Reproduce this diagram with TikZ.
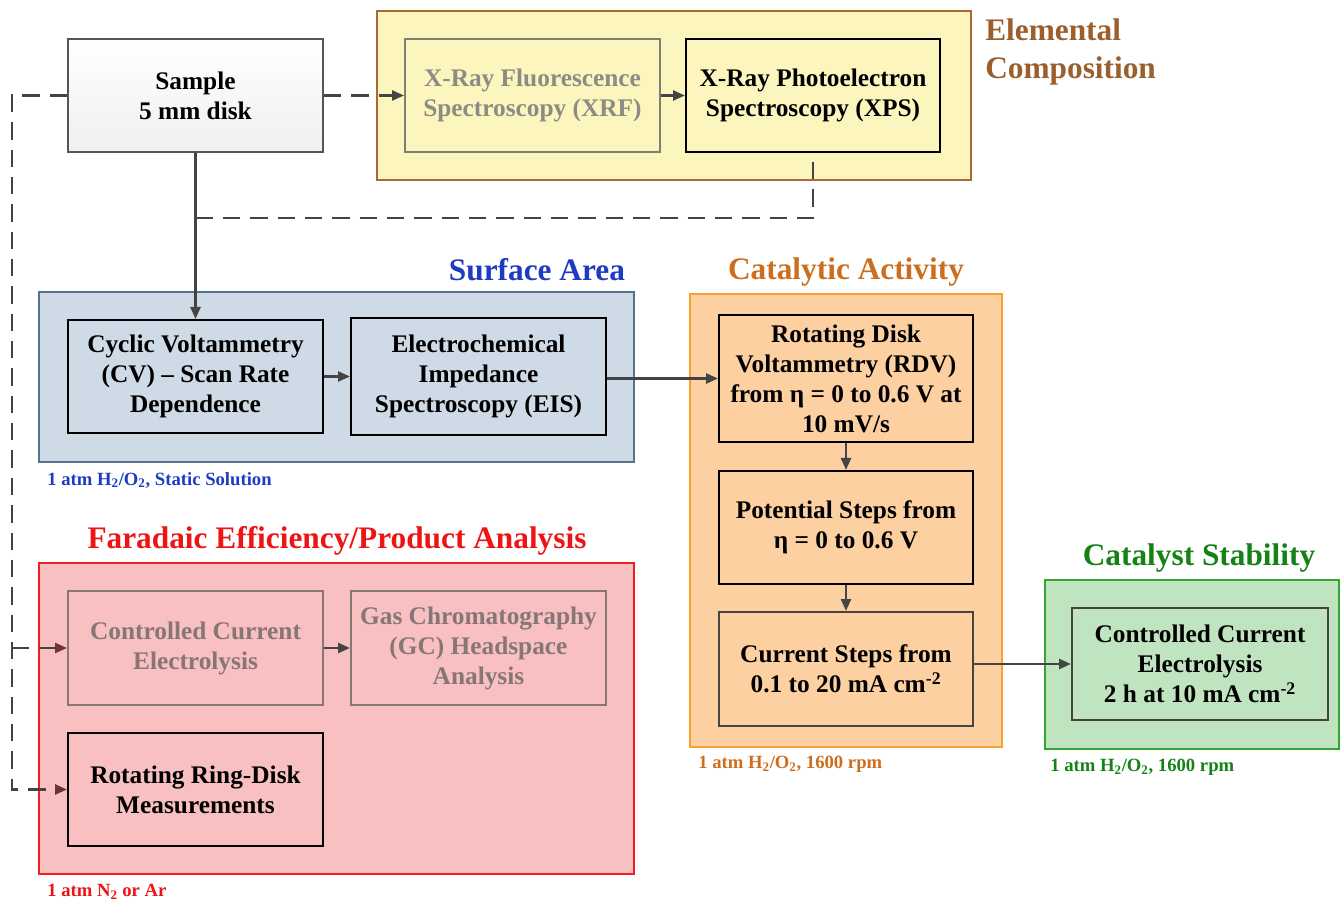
\documentclass[tikz,border=0pt]{standalone}
\usepackage{fontspec}
\setmainfont{Liberation Serif}
\usetikzlibrary{arrows.meta,fit}

\definecolor{lineC}{RGB}{68,68,68}
\definecolor{ylwF}{RGB}{252,246,190}
\definecolor{ylwD}{RGB}{170,105,50}
\definecolor{brnT}{RGB}{155,95,45}
\definecolor{bluF}{RGB}{206,218,230}
\definecolor{bluD}{RGB}{85,115,145}
\definecolor{bluT}{RGB}{30,60,195}
\definecolor{orgF}{RGB}{253,208,162}
\definecolor{orgD}{RGB}{248,160,50}
\definecolor{orgT}{RGB}{205,110,30}
\definecolor{grnF}{RGB}{192,228,192}
\definecolor{grnD}{RGB}{50,165,50}
\definecolor{grnT}{RGB}{20,130,20}
\definecolor{pnkF}{RGB}{248,192,192}
\definecolor{pnkD}{RGB}{240,30,30}
\definecolor{redT}{RGB}{238,20,20}
\definecolor{dimY}{RGB}{140,140,132}
\definecolor{dimP}{RGB}{135,118,118}
\definecolor{tipR}{RGB}{110,50,50}

\newcommand\bxfont{\fontsize{19}{22.5}\selectfont\bfseries}
\newcommand\ttlfont{\fontsize{23.5}{28.5}\selectfont\bfseries}
\newcommand\subfont{\fontsize{14}{16}\selectfont\bfseries}

\begin{document}
\begin{tikzpicture}[x=0.75pt,y=-0.75pt,
  grp/.style={line width=1.5pt, inner sep=0pt},
  bx/.style={draw, line width=1.5pt, inner sep=0pt, align=center, font=\bxfont},
  wh/.style n args={2}{minimum width=#1*0.75pt, minimum height=#2*0.75pt},
  ttl/.style={font=\ttlfont, inner sep=0pt, align=left},
  sub/.style={font=\subfont, inner sep=0pt, anchor=west},
  arr/.style={line width=1.8pt, draw=lineC, -{Triangle[length=9pt,width=7.5pt]}},
  dsh/.style={line width=1.8pt, draw=lineC, dash pattern=on 13pt off 7.5pt},
]
\useasboundingbox (0,0) rectangle (1340,902);

% group panels
\node[grp, fit={(377,11) (971,180)}, fill=ylwF, draw=ylwD] (gElem) {};
\node[grp, fit={(39,292) (634,462)}, fill=bluF, draw=bluD] (gSurf) {};
\node[grp, fit={(690,294) (1002,747)}, fill=orgF, draw=orgD] (gCat) {};
\node[grp, fit={(1045,580) (1339,749)}, fill=grnF, draw=grnD] (gStab) {};
\node[grp, fit={(39,563) (634,874)}, fill=pnkF, draw=pnkD] (gFar) {};

% group titles and conditions
\node[ttl, text=brnT, anchor=west] (tElem) at (985,52) {Elemental\\Composition};
\node[ttl, text=bluT] (tSurf) at (537,270) {Surface Area};
\node[ttl, text=orgT] (tCat) at (846,272) {Catalytic Activity};
\node[ttl, text=grnT] (tStab) at (1199,558) {Catalyst Stability};
\node[ttl, text=redT] (tFar) at (337,541) {Faradaic Efficiency/Product Analysis};

\node[sub, text=bluT] (cSurf) at (47,480) {1 atm H\textsubscript{2}/O\textsubscript{2}, Static Solution};
\node[sub, text=orgT] (cCat) at (698,764) {1 atm H\textsubscript{2}/O\textsubscript{2}, 1600 rpm};
\node[sub, text=grnT] (cStab) at (1050,767) {1 atm H\textsubscript{2}/O\textsubscript{2}, 1600 rpm};
\node[sub, text=redT] (cFar) at (47,892) {1 atm N\textsubscript{2} or Ar};

% step boxes
\node[bx, wh={255}{113}, draw={rgb,255:red,85;green,85;blue,85}, top color=white, bottom color=black!6] (sample) at (195.5,95.5) {Sample\\5 mm disk};
\node[bx, wh={255}{113}, draw=dimY!90!black, text=dimY] (xrf) at (532.5,95.5) {X-Ray Fluorescence\\Spectroscopy (XRF)};
\node[bx, wh={254}{113}, draw=black] (xps) at (813,95.5) {X-Ray Photoelectron\\Spectroscopy (XPS)};
\node[bx, wh={255}{113}, draw=black] (cv) at (195.5,376.5) {Cyclic Voltammetry\\(CV) -- Scan Rate\\Dependence};
\node[bx, wh={255}{117}, draw=black] (eis) at (478.5,376.5) {Electrochemical\\Impedance\\Spectroscopy (EIS)};
\node[bx, wh={254}{127}, draw=black] (rdv) at (846,378.5) {Rotating Disk\\Voltammetry (RDV)\\from η = 0 to 0.6 V at\\10 mV/s};
\node[bx, wh={254}{113}, draw=black] (ps) at (846,527.5) {Potential Steps from\\η = 0 to 0.6 V};
\node[bx, wh={254}{114}, draw=lineC] (cs) at (846,669) {Current Steps from\\0.1 to 20 mA cm\textsuperscript{-2}};
\node[bx, wh={256}{112}, draw=lineC] (ccg) at (1200,664) {Controlled Current\\Electrolysis\\2 h at 10 mA cm\textsuperscript{-2}};
\node[bx, wh={255}{114}, draw=dimP, text=dimP] (cce) at (195.5,648) {Controlled Current\\Electrolysis};
\node[bx, wh={255}{114}, draw=dimP, text=dimP] (gc) at (478.5,648) {Gas Chromatography\\(GC) Headspace\\Analysis};
\node[bx, wh={255}{113}, draw=black] (rrde) at (195.5,789.5) {Rotating Ring-Disk\\Measurements};

% junction points of the dashed routes
\coordinate (jn) at (195.5,218);
\coordinate (lt) at (12,95.5);
\coordinate (lb) at (12,789.5);
\coordinate (lm) at (12,648);

% connectors
\draw[arr] (sample.south) -- (cv.north);
\draw[dsh] (jn) -| (xps.south);
\draw[dsh, -{Triangle[length=9pt,width=7.5pt]}] (sample.east) -- (xrf.west);
\draw[arr] (xrf.east) -- (xps.west);
\draw[dsh, -{Triangle[length=9pt,width=7.5pt,color=tipR]}] (sample.west) -- (lt) -- (lb) -- (rrde.west);
\draw[dsh, -{Triangle[length=9pt,width=7.5pt,color=tipR]}] (lm) -- (cce.west);
\draw[arr] (cv.east) -- (eis.west |- cv.east);
\draw[arr] (eis.east |- rdv.west) -- (rdv.west);
\draw[arr] (rdv.south) -- (ps.north);
\draw[arr] (ps.south) -- (cs.north);
\draw[arr] (cs.east |- ccg.west) -- (ccg.west);
\draw[arr] (cce.east) -- (gc.west);
\end{tikzpicture}
\end{document}
